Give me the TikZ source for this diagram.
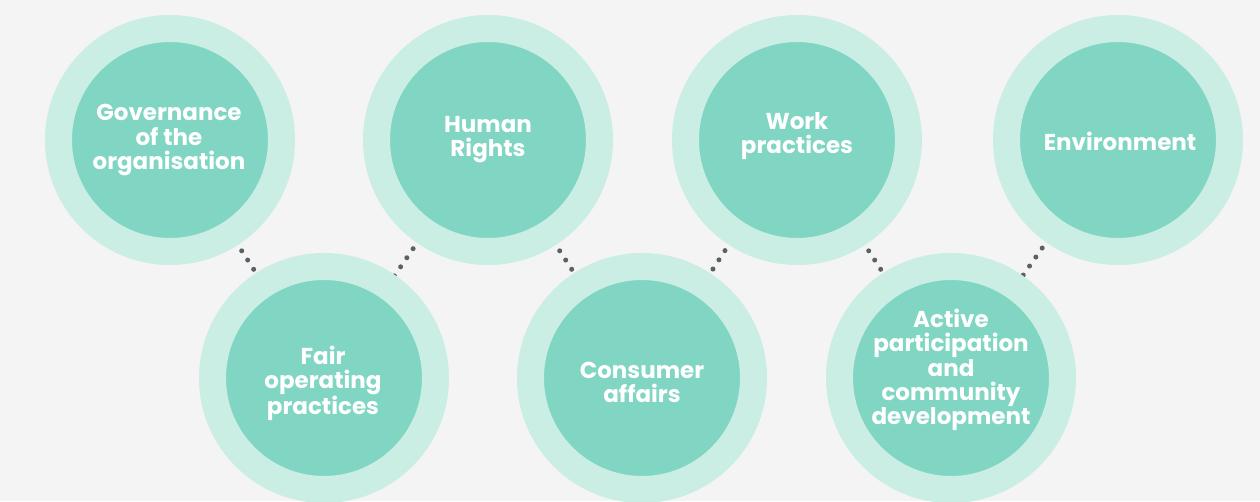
\documentclass[tikz,border=0pt]{standalone}
\usepackage{fontspec}
\setmainfont{Poppins}[BoldFont={* Bold}]
\definecolor{bgc}{HTML}{F3F4F3}
\definecolor{ringc}{HTML}{CAEDE4}
\definecolor{innerc}{HTML}{80D6C3}
\definecolor{dotc}{HTML}{5A6066}
\pgfdeclarelayer{bg}
\pgfsetlayers{bg,main}
\tikzset{
  ring/.style={circle, draw=ringc, line width=27pt, fill=innerc, minimum size=223pt, inner sep=0pt},
  lbl/.style={text=white, align=center, inner sep=0pt, font=\fontsize{23}{24.2}\selectfont\bfseries},
  dotline/.style={draw=dotc, line width=5pt, line cap=round, dash pattern=on 0pt off 11pt}
}
\begin{document}
\begin{tikzpicture}[x=1pt,y=-1pt]
\begin{pgfonlayer}{bg}
\fill[bgc] (0,0) rectangle (1260,501);
\end{pgfonlayer}
\useasboundingbox (0,0) rectangle (1260,501);
\node[ring] (c1) at (170,140) {};
\node[ring] (c2) at (488,140) {};
\node[ring] (c3) at (797,140) {};
\node[ring] (c4) at (1118,140) {};
\node[ring] (c5) at (324,378) {};
\node[ring] (c6) at (642,378) {};
\node[ring] (c7) at (951,378) {};
\node[lbl] (t1) at (169,140) {Governance\\of the\\organisation};
\node[lbl] (t2) at (488,139.5) {Human\\Rights};
\node[lbl] (t3) at (797,136) {Work\\practices};
\node[lbl] (t4) at (1120,141) {Environment};
\node[lbl] (t5) at (323,383) {Fair\\operating\\practices};
\node[lbl] (t6) at (642,382.5) {Consumer\\affairs};
\node[lbl] (t7) at (951,370) {Active\\participation\\and\\community\\development};
\begin{pgfonlayer}{bg}
\draw[dotline] (c1.center) -- (c5.center);
\draw[dotline] (c2.center) -- (c5.center);
\draw[dotline] (c2.center) -- (c6.center);
\draw[dotline] (c3.center) -- (c6.center);
\draw[dotline] (c3.center) -- (c7.center);
\draw[dotline] (c4.center) -- (c7.center);
\end{pgfonlayer}
\end{tikzpicture}
\end{document}
